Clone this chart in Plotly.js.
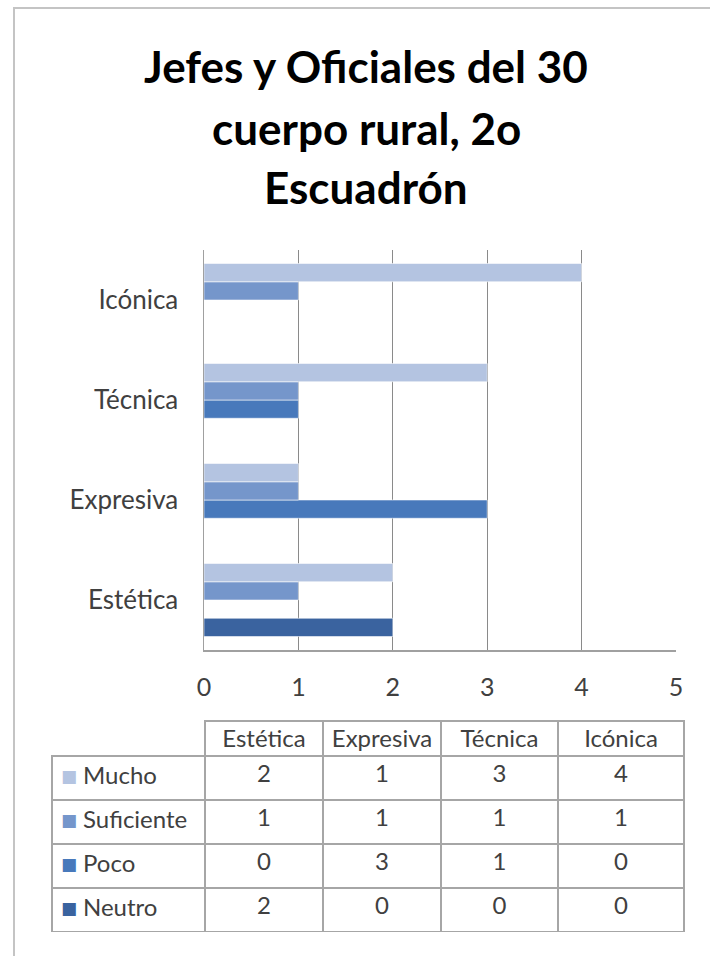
<!DOCTYPE html>
<html>
<head>
<meta charset="utf-8">
<script src="https://cdn.plot.ly/plotly-3.0.1.min.js"></script>
<style>
  html, body { margin: 0; padding: 0; background: #ffffff; }
  #chart { width: 710px; height: 956px; }
</style>
</head>
<body>
<div id="chart"></div>
<script>
// ---- data ----
const categories = ['Estética', 'Expresiva', 'Técnica', 'Icónica'];
const seriesNames = ['Mucho', 'Suficiente', 'Poco', 'Neutro'];
const mucho = [2, 1, 3, 4];
const suficiente = [1, 1, 1, 1];
const poco = [0, 3, 1, 0];
const neutro = [2, 0, 0, 0];
const xTickVals = [0, 1, 2, 3, 4, 5];
const titleLines = ['Jefes y Oficiales del 30', 'cuerpo rural, 2o', 'Escuadrón'];

// ---- styles ----
const seriesColors = {
  'Mucho': '#b4c4e1',
  'Suficiente': '#7596cb',
  'Poco': '#4879bb',
  'Neutro': '#3a639f'
};
const seriesValues = { 'Mucho': mucho, 'Suficiente': suficiente, 'Poco': poco, 'Neutro': neutro };

const FONT = 'Lato, "Open Sans", "DejaVu Sans", sans-serif';
const TXT = '#404040';

// geometry (pixels) used to place the plot area and the table
const PAPER_L = 52, PAPER_R = 684, PAPER_T = 250, PAPER_B = 932;
const PW = PAPER_R - PAPER_L, PH = PAPER_B - PAPER_T;
const px = x => (x - PAPER_L) / PW;
const py = y => (PAPER_B - y) / PH;
const TABLE_TOP = 721, HEADER_H = 35, ROW_H = 44;

// Bars: draw in reverse so "Mucho" sits on top of each group
const barTraces = seriesNames.slice().reverse().map(name => ({
  type: 'bar',
  orientation: 'h',
  name: name,
  y: categories,
  x: seriesValues[name],
  marker: { color: seriesColors[name], line: { color: 'rgba(255,255,255,0.55)', width: 1 } },
  hoverinfo: 'x+y+name',
  showlegend: false
}));

// Data table beneath the chart (acts as the legend)
const headerVals = [''].concat(categories);
const firstCol = seriesNames.map(() => '');
const tableCols = [firstCol].concat(categories.map((c, i) =>
  seriesNames.map(n => String(seriesValues[n][i]))));

const tableTrace = {
  type: 'table',
  domain: { x: [0, 1], y: [0, py(TABLE_TOP)] },
  columnwidth: [153, 118, 118, 117, 126],
  header: {
    values: headerVals,
    height: HEADER_H,
    align: 'center',
    fill: { color: ['rgba(0,0,0,0)', 'white', 'white', 'white', 'white'] },
    line: { color: ['rgba(0,0,0,0)', '#a6a6a6', '#a6a6a6', '#a6a6a6', '#a6a6a6'], width: 1.5 },
    font: { family: FONT, size: 24, color: TXT }
  },
  cells: {
    values: tableCols,
    height: ROW_H,
    align: ['left', 'center', 'center', 'center', 'center'],
    fill: { color: 'white' },
    line: { color: '#a6a6a6', width: 1.5 },
    font: { family: FONT, size: 24, color: TXT }
  }
};

// Title as three lines (Excel line spacing)
const titleCenters = [66, 128, 187];
const annotations = titleLines.map((t, i) => ({
  text: '<b>' + t + '</b>',
  xref: 'paper', yref: 'paper',
  x: px(366), y: py(titleCenters[i]),
  xanchor: 'center', yanchor: 'middle',
  showarrow: false,
  font: { family: FONT, size: 44, color: '#000000' }
}));

// legend keys + series names inside the table's first column
seriesNames.forEach((n, i) => {
  const rowC = TABLE_TOP + HEADER_H + ROW_H * (i + 0.5);
  annotations.push({
    text: '■',
    xref: 'paper', yref: 'paper',
    x: px(68.5), y: py(rowC - 2),
    xanchor: 'center', yanchor: 'middle',
    showarrow: false,
    font: { family: '"DejaVu Sans", sans-serif', size: 17, color: seriesColors[n] }
  });
  annotations.push({
    text: n,
    xref: 'paper', yref: 'paper',
    x: px(81), y: py(rowC - 4),
    xanchor: 'left', yanchor: 'middle',
    showarrow: false,
    font: { family: FONT, size: 24, color: TXT }
  });
});

const layout = {
  width: 710,
  height: 956,
  margin: { l: PAPER_L, r: 710 - PAPER_R, t: PAPER_T, b: 956 - PAPER_B, pad: 0 },
  paper_bgcolor: 'white',
  plot_bgcolor: 'white',
  barmode: 'group',
  bargap: 0.27,
  bargroupgap: 0,
  showlegend: false,
  font: { family: FONT, color: TXT },
  xaxis: {
    domain: [px(204), px(676)],
    range: [0, 5],
    tickvals: xTickVals,
    ticktext: xTickVals.map(String),
    showgrid: true,
    gridcolor: '#8a8a8a',
    gridwidth: 1.2,
    zeroline: false,
    showline: true,
    linecolor: '#a0a0a0',
    linewidth: 1.5,
    ticks: '',
    ticklabelstandoff: 14,
    tickfont: { family: FONT, size: 25, color: TXT },
    fixedrange: true
  },
  yaxis: {
    domain: [py(650), 1],
    type: 'category',
    categoryorder: 'array',
    categoryarray: categories,
    showgrid: false,
    zeroline: false,
    showline: true,
    linecolor: '#a0a0a0',
    linewidth: 1.5,
    ticks: '',
    ticklabelstandoff: 19,
    tickfont: { family: FONT, size: 26, color: TXT },
    fixedrange: true
  },
  annotations: annotations,
  shapes: [{
    type: 'rect', xref: 'paper', yref: 'paper',
    x0: px(14), x1: px(720),
    y0: py(970), y1: py(8),
    line: { color: '#c4c4c4', width: 2 },
    fillcolor: 'rgba(0,0,0,0)',
    layer: 'below'
  }]
};

Plotly.newPlot('chart', barTraces.concat([tableTrace]), layout, { displayModeBar: false, staticPlot: true });
</script>
</body>
</html>
